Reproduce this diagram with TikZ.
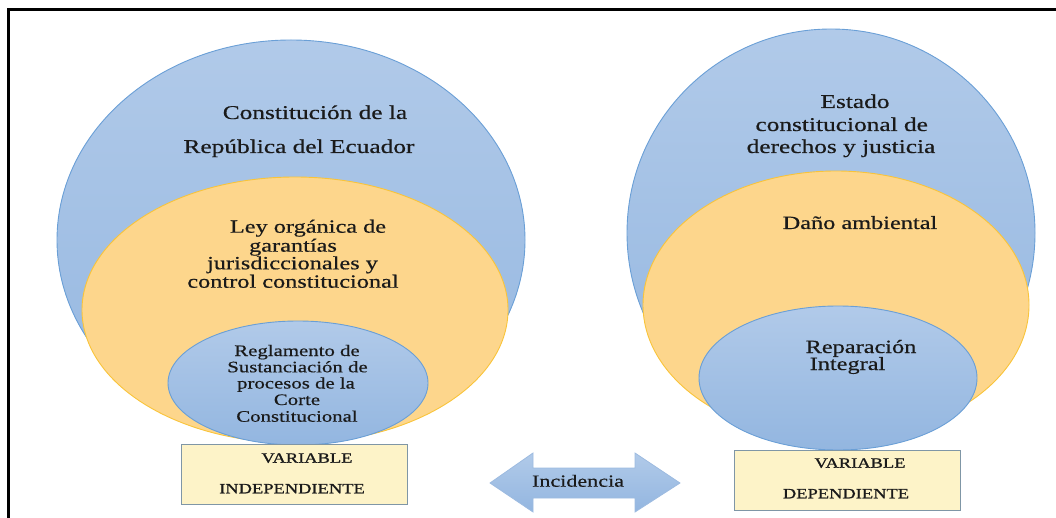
\documentclass[tikz,border=0pt]{standalone}
\usepackage{fontspec}
\setmainfont{Liberation Serif}[FakeStretch=1.3, FakeBold=0.5]
\newfontfamily\capsfont{Liberation Serif}[FakeStretch=1.3, FakeBold=1.2]
\usetikzlibrary{shapes.geometric}
\definecolor{bluetop}{HTML}{B1CAE9}
\definecolor{bluebot}{HTML}{93B6E0}
\definecolor{bluedraw}{HTML}{6A9FD6}
\definecolor{orfill}{HTML}{FDD68C}
\definecolor{ordraw}{HTML}{F9C43A}
\definecolor{boxfill}{HTML}{FDF3C8}
\definecolor{boxdraw}{HTML}{7F96A6}
\definecolor{arrdraw}{HTML}{9DBBE0}
\definecolor{txt}{HTML}{1A1A1A}
\tikzset{
  blueell/.style={ellipse, draw=bluedraw, line width=0.9pt, top color=bluetop, bottom color=bluebot, inner sep=0pt},
  orell/.style={ellipse, draw=ordraw, line width=0.9pt, fill=orfill, inner sep=0pt},
  varbox/.style={draw=boxdraw, line width=1pt, fill=boxfill},
  big/.style={font=\fontsize{19.5}{22}\selectfont, text=txt, anchor=base, inner sep=0pt},
  mid/.style={font=\fontsize{18.7}{18.3}\selectfont, text=txt, anchor=base, inner sep=0pt},
  small/.style={font=\fontsize{16}{16.3}\selectfont, text=txt, anchor=base, inner sep=0pt},
  caps/.style={font=\capsfont\fontsize{14.2}{16}\selectfont, text=txt, anchor=base, inner sep=0pt},
}
\begin{document}
\begin{tikzpicture}[x=1pt,y=-1pt]
\useasboundingbox (0,0) rectangle (1056,518);
% frame (left and top edges)
\draw[line width=2.6pt, black] (8.5,518) -- (8.5,9.5) -- (1056,9.5);

% left group
\node[blueell, minimum width=468pt, minimum height=400pt] (Lbig) at (291,240) {};
\node[orell, minimum width=426pt, minimum height=266pt] (Lmid) at (295,310) {};
\node[blueell, minimum width=260pt, minimum height=124pt] (Lin) at (298,383) {};

% right group
\node[blueell, minimum width=408pt, minimum height=408pt] (Rbig) at (831,233) {};
\node[orell, minimum width=386pt, minimum height=268pt] (Rmid) at (836,305) {};
\node[blueell, minimum width=278pt, minimum height=144pt] (Rin) at (838,378) {};

% boxes
\node[varbox, minimum width=226pt, minimum height=60pt] (Lbox) at (294,474) {};
\node[varbox, minimum width=226pt, minimum height=60pt] (Rbox) at (847,480) {};

% arrow
\path[draw=arrdraw, line width=0.8pt, top color=bluetop, bottom color=bluebot]
  (490,483) -- (533,453) -- (533,468) -- (635,468) -- (635,453) -- (680,483)
  -- (635,512) -- (635,498) -- (533,498) -- (533,512) -- cycle;
\node[font=\fontsize{17}{17}\selectfont, text=txt, anchor=base, inner sep=0pt] (inc) at (578,486.7) {Incidencia};

% left texts
\node[big] (t1) at (315,119) {Constitución de la};
\node[big] (t2) at (299,153) {República del Ecuador};
\node[mid] (t3) at (308,232.7) {Ley orgánica de};
\node[mid] (t4) at (293,251.7) {garantías};
\node[mid] (t5) at (292.5,269.3) {jurisdiccionales y};
\node[mid] (t6) at (293,287.7) {control constitucional};
\node[small] (t7) at (297,356) {Reglamento de};
\node[small] (t8) at (297.5,372.3) {Sustanciación de};
\node[small] (t9) at (296,388.5) {procesos de la};
\node[small] (t10) at (297,405) {Corte};
\node[small] (t11) at (297,421.7) {Constitucional};
\node[caps] (t12) at (307,462.7) {VARIABLE};
\node[caps] (t13) at (292,493.3) {INDEPENDIENTE};

% right texts
\node[big] (r1) at (855,108) {Estado};
\node[big] (r2) at (841.7,131) {constitucional de};
\node[big] (r3) at (841,153) {derechos y justicia};
\node[mid] (r4) at (860,229) {Daño ambiental};
\node[mid] (r5) at (861,353) {Reparación};
\node[mid] (r6) at (847.5,370) {Integral};
\node[caps] (r7) at (860,467.7) {VARIABLE};
\node[caps] (r8) at (846,498.3) {DEPENDIENTE};
\end{tikzpicture}
\end{document}
